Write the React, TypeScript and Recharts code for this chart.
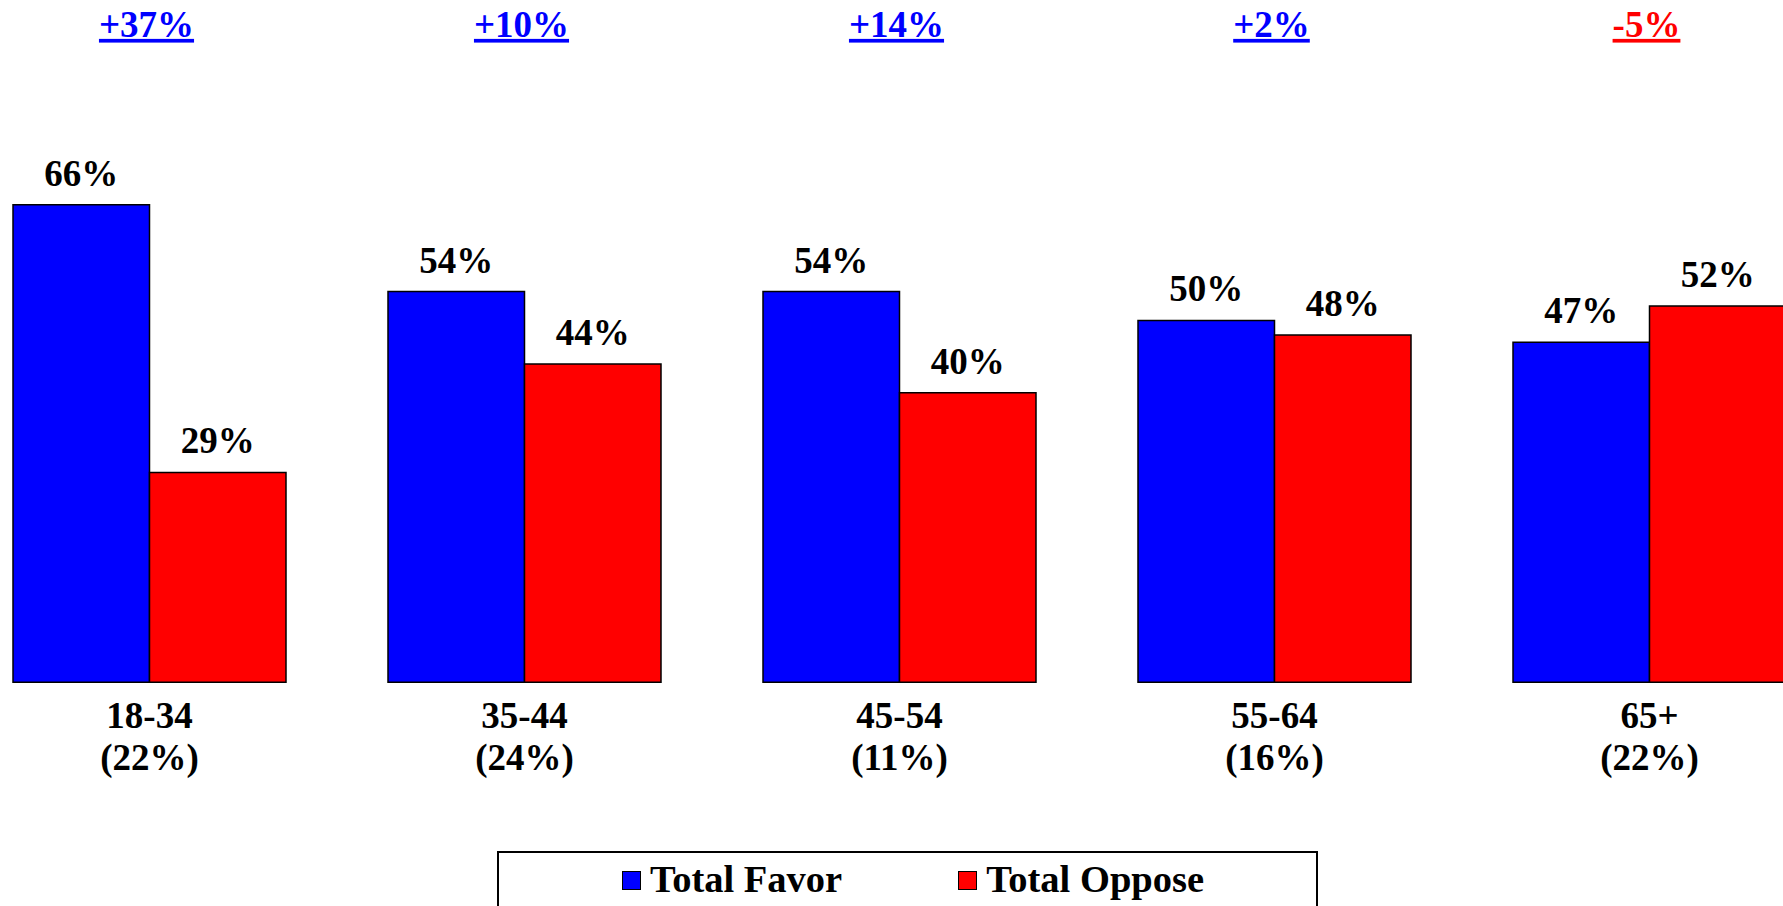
import React from "react";
import { BarChart, Bar, XAxis, YAxis, Legend, LabelList } from "recharts";

const ageGroups = ["18-34", "35-44", "45-54", "55-64", "65+"];
const groupShares = ["(22%)", "(24%)", "(11%)", "(16%)", "(22%)"];
const totalFavor = [66, 54, 54, 50, 47];
const totalOppose = [29, 44, 40, 48, 52];

const FONT = '"Liberation Serif", "Times New Roman", serif';
const BLUE = "#0000ff";
const RED = "#ff0000";

const chartData = ageGroups.map((age, i) => ({
  age,
  share: groupShares[i],
  favor: totalFavor[i],
  oppose: totalOppose[i],
  gap: totalFavor[i] - totalOppose[i],
}));

function CategoryTick(props: any) {
  const { x, y, index } = props;
  const row = chartData[index];
  return (
    <text
      x={x}
      y={y}
      textAnchor="middle"
      fontFamily={FONT}
      fontWeight="bold"
      fontSize={37}
      fill="#000"
    >
      <tspan x={x} dy={45.5}>{row.age}</tspan>
      <tspan x={x} dy={42}>{row.share}</tspan>
    </text>
  );
}

function GapTick(props: any) {
  const { x, y, index } = props;
  const gap = chartData[index].gap;
  const label = `${gap > 0 ? "+" : ""}${gap}%`;
  return (
    <text
      x={x - 3}
      y={y - 66.5}
      textAnchor="middle"
      fontFamily={FONT}
      fontWeight="bold"
      fontSize={37}
      fill={gap >= 0 ? BLUE : RED}
      style={{
        textDecoration: "underline",
        textDecorationThickness: 3,
        textUnderlineOffset: 4,
      }}
    >
      {label}
    </text>
  );
}

function LegendBox(props: any) {
  const items = props.payload || [];
  return (
    <div
      style={{
        boxSizing: "border-box",
        width: "100%",
        height: "100%",
        border: "2px solid #000",
        background: "#fff",
        display: "flex",
        alignItems: "flex-start",
        paddingLeft: 123,
        paddingTop: 3,
        fontFamily: FONT,
        fontWeight: "bold",
        fontSize: 38.5,
        lineHeight: "46px",
      }}
    >
      {items.map((item: any, i: number) => (
        <div
          key={item.value}
          style={{ display: "flex", alignItems: "center", marginRight: i === 0 ? 116 : 0 }}
        >
          <span
            style={{
              display: "inline-block",
              width: 17,
              height: 17,
              background: item.color,
              border: "1.5px solid #000",
              marginRight: 9,
              marginTop: 4,
            }}
          />
          <span>{item.value}</span>
        </div>
      ))}
    </div>
  );
}

export default function App() {
  return (
    <div
      style={{
        position: "absolute",
        left: 0,
        top: 0,
        width: 1783,
        height: 906,
        overflow: "hidden",
        background: "#fff",
      }}
    >
      <div style={{ position: "absolute", left: -38.5, top: 0 }}>
        <BarChart
          width={1875}
          height={906}
          data={chartData}
          margin={{ top: 0, right: 0, bottom: 143.7, left: 0 }}
          barGap={0}
          barSize={136.5}
        >
          <XAxis
            dataKey="age"
            xAxisId="bottom"
            height={80}
            axisLine={false}
            tickLine={false}
            tickSize={0}
            tickMargin={0}
            interval={0}
            tick={<CategoryTick />}
          />
          <XAxis
            dataKey="age"
            xAxisId="top"
            orientation="top"
            height={103.4}
            axisLine={false}
            tickLine={false}
            tickSize={0}
            tickMargin={0}
            interval={0}
            tick={<GapTick />}
          />
          <YAxis hide domain={[0, 80]} />
          <Legend
            verticalAlign="middle"
            align="center"
            layout="horizontal"
            content={<LegendBox />}
            wrapperStyle={{ left: 535.5, top: 850.5, width: 821, height: 80 }}
          />
          <Bar
            dataKey="favor"
            name="Total Favor"
            xAxisId="bottom"
            fill={BLUE}
            stroke="#000"
            strokeWidth={1.5}
            isAnimationActive={false}
          >
            <LabelList
              dataKey="favor"
              position="top"
              offset={19}
              formatter={(v: any) => `${v}%`}
              style={{ fill: "#000", fontFamily: FONT, fontWeight: "bold", fontSize: 37 }}
            />
          </Bar>
          <Bar
            dataKey="oppose"
            name="Total Oppose"
            xAxisId="bottom"
            fill={RED}
            stroke="#000"
            strokeWidth={1.5}
            isAnimationActive={false}
          >
            <LabelList
              dataKey="oppose"
              position="top"
              offset={19}
              formatter={(v: any) => `${v}%`}
              style={{ fill: "#000", fontFamily: FONT, fontWeight: "bold", fontSize: 37 }}
            />
          </Bar>
        </BarChart>
      </div>
    </div>
  );
}
